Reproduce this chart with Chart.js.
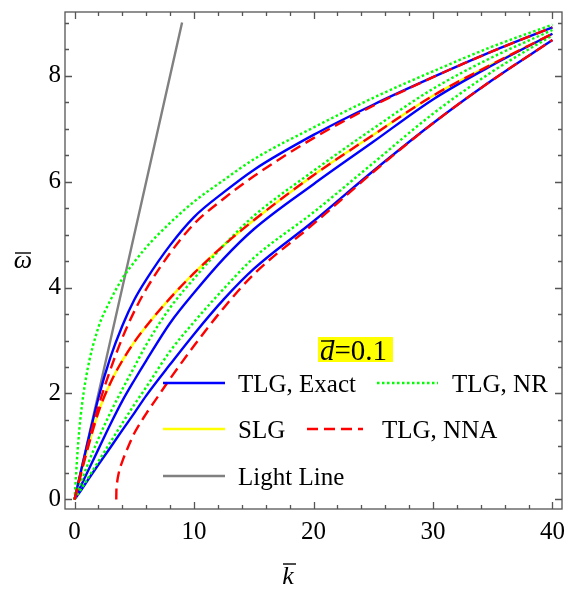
<!DOCTYPE html>
<html>
<head>
<meta charset="utf-8">
<script src="https://cdn.jsdelivr.net/npm/chart.js@4.4.1/dist/chart.umd.min.js"></script>
<style>
  html, body { margin: 0; padding: 0; background: #fff; }
  #wrap { width: 568px; height: 589px; position: relative; }
</style>
</head>
<body>
<div id="wrap"><canvas id="dispersionChart"></canvas></div>
<script>
// k bar values shared by the curves that start at the origin
const kGrid = [0, 0.25, 0.5, 1, 2, 3, 4, 5, 6, 8, 10, 12.5, 15, 20, 25, 30, 35, 40];

// TLG, Exact (blue) - three branches
const exactUpper  = [0, 0.25, 0.5, 0.98, 1.92, 2.68, 3.28, 3.77, 4.15, 4.8, 5.33, 5.8, 6.22, 6.88, 7.45, 7.97, 8.46, 8.91];
const exactMiddle = [0, 0.12, 0.24, 0.48, 0.95, 1.42, 1.86, 2.25, 2.62, 3.33, 3.9, 4.55, 5.1, 5.95, 6.75, 7.55, 8.2, 8.79];
const exactLower  = [0, 0.08, 0.16, 0.33, 0.66, 0.98, 1.31, 1.63, 1.96, 2.55, 3.12, 3.78, 4.35, 5.25, 6.2, 7.1, 7.92, 8.67];

// TLG, NR (green dotted)
const nrUpper  = [0, 0.9, 1.55, 2.35, 3.25, 3.76, 4.17, 4.48, 4.76, 5.22, 5.62, 6.03, 6.42, 7.02, 7.58, 8.08, 8.55, 8.96];
const nrMiddle = [0, 0.15, 0.3, 0.6, 1.15, 1.64, 2.08, 2.5, 2.92, 3.62, 4.17, 4.8, 5.35, 6.2, 7.0, 7.75, 8.35, 8.86];
const nrLower  = [0, 0.09, 0.18, 0.36, 0.72, 1.08, 1.44, 1.79, 2.12, 2.8, 3.35, 3.98, 4.56, 5.42, 6.35, 7.28, 8.08, 8.76];

// SLG (yellow) and the TLG, NNA branch lying on top of it
const slg       = [0, 0.22, 0.45, 0.88, 1.65, 2.2, 2.62, 2.97, 3.27, 3.8, 4.27, 4.8, 5.27, 6.12, 6.88, 7.62, 8.22, 8.79];
const nnaUpper  = [0, 0.24, 0.47, 0.92, 1.76, 2.45, 3.05, 3.55, 3.97, 4.65, 5.2, 5.68, 6.1, 6.82, 7.43, 7.97, 8.46, 8.91];
const nnaMiddle = [0, 0.22, 0.45, 0.88, 1.65, 2.2, 2.62, 2.97, 3.27, 3.8, 4.27, 4.8, 5.27, 6.12, 6.88, 7.62, 8.22, 8.79];

// lowest NNA branch has a cut-off, so it has its own k values
const kNnaLower = [3.49, 3.5, 3.56, 3.7, 4.0, 4.5, 5, 6, 7, 8, 10, 12.5, 15, 20, 25, 30, 35, 40];
const nnaLower  = [0, 0.15, 0.32, 0.5, 0.72, 1.0, 1.25, 1.62, 1.95, 2.28, 2.9, 3.62, 4.25, 5.2, 6.18, 7.1, 7.92, 8.67];

// light line
const kLight = [0, 9];
const wLight = [0, 9];

// tick labels
const xTickLabels = [0, 10, 20, 30, 40];
const yTickLabels = [0, 2, 4, 6, 8];

const SERIF = "'Liberation Serif', 'Times New Roman', serif";

function toPoints(ks, ws) {
    return ks.map((k, i) => ({ x: k, y: ws[i] }));
}

function curve(label, ks, ws, color, dash, order) {
    return {
        label: label,
        data: toPoints(ks, ws),
        showLine: true,
        borderColor: color,
        backgroundColor: color,
        borderWidth: 2.4,
        borderDash: dash,
        pointRadius: 0,
        cubicInterpolationMode: 'monotone',
        order: order
    };
}

// frame with inward ticks on all four sides
const frameTicks = {
    id: 'frameTicks',
    afterDatasetsDraw(chart) {
        const { ctx, chartArea: a, scales: { x, y } } = chart;
        ctx.save();
        ctx.strokeStyle = '#555';
        ctx.lineWidth = 1.3;
        ctx.strokeRect(a.left, a.top, a.right - a.left, a.bottom - a.top);
        ctx.beginPath();
        for (let v = 0; v <= 40; v += 2) {
            const px = Math.round(x.getPixelForValue(v)) + 0.5;
            const len = v % 10 === 0 ? 7 : 4;
            ctx.moveTo(px, a.bottom); ctx.lineTo(px, a.bottom - len);
            ctx.moveTo(px, a.top); ctx.lineTo(px, a.top + len);
        }
        for (let i = 0; i <= 18; i++) {
            const v = i * 0.5;
            const py = Math.round(y.getPixelForValue(v)) + 0.5;
            const len = v % 2 === 0 ? 7 : 4;
            ctx.moveTo(a.left, py); ctx.lineTo(a.left + len, py);
            ctx.moveTo(a.right, py); ctx.lineTo(a.right - len, py);
        }
        ctx.stroke();
        ctx.restore();
    }
};

// legend, d-bar label and axis titles
const annotations = {
    id: 'annotations',
    afterDraw(chart) {
        const ctx = chart.ctx;
        ctx.save();

        // d bar = 0.1 on yellow
        ctx.fillStyle = '#ffff00';
        ctx.fillRect(318, 337, 75, 25);
        ctx.fillStyle = '#000';
        ctx.textBaseline = 'alphabetic';
        ctx.font = 'italic 29px ' + SERIF;
        ctx.fillText('d', 320, 360);
        const dw = ctx.measureText('d').width;
        ctx.font = '29px ' + SERIF;
        ctx.fillText('=0.1', 320 + dw, 360);
        ctx.strokeStyle = '#000';
        ctx.lineWidth = 1.4;
        ctx.beginPath();
        ctx.moveTo(321, 341); ctx.lineTo(334, 341);
        ctx.stroke();

        // legend rows
        const items = [
            { x0: 163, x1: 225, tx: 238, y: 383, label: 'TLG, Exact', color: '#0000ff', dash: [] },
            { x0: 377, x1: 438, tx: 452, y: 383, label: 'TLG, NR', color: '#00ff00', dash: [2.5, 2.5] },
            { x0: 163, x1: 225, tx: 238, y: 429, label: 'SLG', color: '#ffff00', dash: [] },
            { x0: 307, x1: 363, tx: 382, y: 429, label: 'TLG, NNA', color: '#ff0000', dash: [11, 6] },
            { x0: 163, x1: 225, tx: 238, y: 476, label: 'Light Line', color: '#808080', dash: [] }
        ];
        ctx.font = '25px ' + SERIF;
        items.forEach(it => {
            ctx.strokeStyle = it.color;
            ctx.lineWidth = 2.6;
            ctx.setLineDash(it.dash);
            ctx.beginPath();
            ctx.moveTo(it.x0, it.y); ctx.lineTo(it.x1, it.y);
            ctx.stroke();
            ctx.fillStyle = '#000';
            ctx.fillText(it.label, it.tx, it.y + 8.5);
        });
        ctx.setLineDash([]);

        // axis titles with overbars
        ctx.fillStyle = '#000';
        ctx.strokeStyle = '#000';
        ctx.lineWidth = 1.4;
        ctx.font = 'italic 26px ' + SERIF;
        ctx.textAlign = 'center';
        ctx.fillText('ω', 23, 268);
        ctx.beginPath();
        ctx.moveTo(15, 253); ctx.lineTo(31, 253);
        ctx.stroke();
        ctx.fillText('k', 288, 584);
        ctx.beginPath();
        ctx.moveTo(283, 564); ctx.lineTo(296, 564);
        ctx.stroke();

        ctx.restore();
    }
};

function drawChart() {
    const ctx = document.getElementById('dispersionChart').getContext('2d');
    new Chart(ctx, {
        type: 'scatter',
        data: {
            datasets: [
                curve('TLG, NNA', kGrid, nnaUpper, '#ff0000', [11, 6], 1),
                curve('TLG, NNA', kGrid, nnaMiddle, '#ff0000', [11, 6], 1),
                curve('TLG, NNA', kNnaLower, nnaLower, '#ff0000', [11, 6], 1),
                curve('TLG, NR', kGrid, nrUpper, '#00ff00', [2.5, 2.5], 2),
                curve('TLG, NR', kGrid, nrMiddle, '#00ff00', [2.5, 2.5], 2),
                curve('TLG, NR', kGrid, nrLower, '#00ff00', [2.5, 2.5], 2),
                curve('TLG, Exact', kGrid, exactUpper, '#0000ff', [], 3),
                curve('TLG, Exact', kGrid, exactMiddle, '#0000ff', [], 3),
                curve('TLG, Exact', kGrid, exactLower, '#0000ff', [], 3),
                curve('SLG', kGrid, slg, '#ffff00', [], 4),
                curve('Light Line', kLight, wLight, '#808080', [], 5)
            ]
        },
        options: {
            responsive: true,
            maintainAspectRatio: false,
            animation: false,
            layout: { padding: { top: 12, right: 6, left: 0, bottom: 0 } },
            plugins: {
                legend: { display: false },
                tooltip: { enabled: false }
            },
            scales: {
                x: {
                    type: 'linear',
                    min: -0.8,
                    max: 40.8,
                    grid: { display: false, drawTicks: false },
                    border: { display: false },
                    ticks: { color: '#000', font: { family: SERIF, size: 25 }, padding: 8, maxRotation: 0, autoSkip: false },
                    afterBuildTicks: s => { s.ticks = xTickLabels.map(v => ({ value: v })); },
                    afterFit: s => { s.height = 80; s.paddingLeft = 0; s.paddingRight = 0; }
                },
                y: {
                    type: 'linear',
                    min: -0.18,
                    max: 9.2,
                    grid: { display: false, drawTicks: false },
                    border: { display: false },
                    ticks: { color: '#000', font: { family: SERIF, size: 25 }, padding: 4, autoSkip: false },
                    afterBuildTicks: s => { s.ticks = yTickLabels.map(v => ({ value: v })); },
                    afterFit: s => { s.width = 65; s.paddingTop = 0; s.paddingBottom = 0; }
                }
            }
        },
        plugins: [frameTicks, annotations]
    });
}

window.onload = drawChart;
</script>
</body>
</html>
